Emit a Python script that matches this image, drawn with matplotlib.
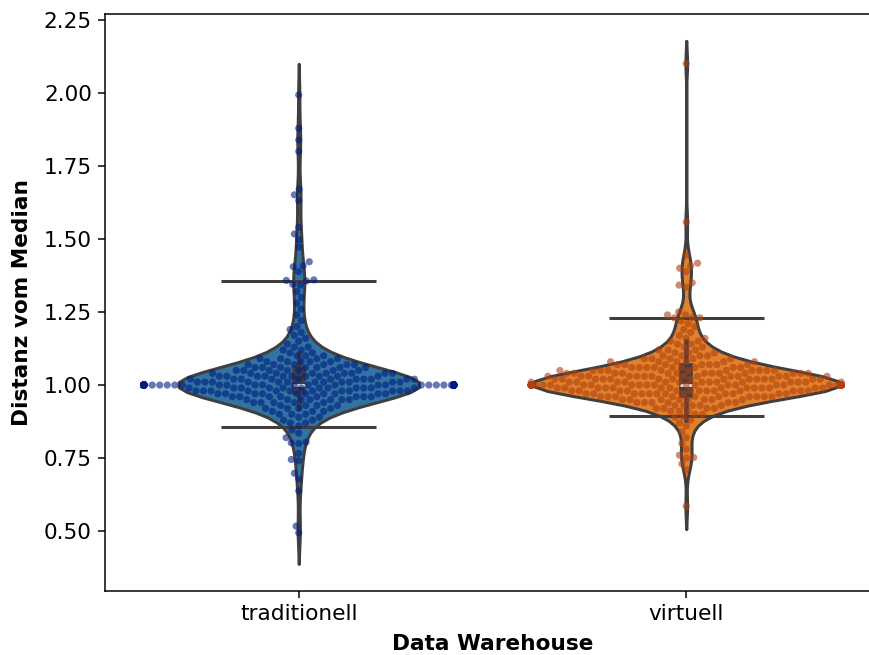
import numpy as np
import pandas as pd
import matplotlib
matplotlib.use("Agg")
import matplotlib.pyplot as plt
import seaborn as sns
import warnings
warnings.filterwarnings("ignore")

categories = ["traditionell", "virtuell"]

# value levels (Distanz vom Median) and how many runs sit at each level
trad_levels = [0.86, 0.87, 0.88, 0.89, 0.90, 0.91, 0.92, 0.93, 0.94, 0.95, 0.96, 0.97, 0.98, 0.99,
               1.00,
               1.01, 1.02, 1.03, 1.04, 1.05, 1.06, 1.07, 1.08, 1.09, 1.10,
               1.11, 1.12, 1.13, 1.14, 1.15, 1.16, 1.17, 1.18, 1.19, 1.20,
               1.22, 1.24, 1.26, 1.28, 1.30, 1.32]
trad_counts = [1, 2, 2, 2, 3, 3, 4, 4, 5, 7, 8, 10, 12, 12,
               110,
               12, 11, 10, 9, 7, 7, 6, 5, 4, 3,
               2, 2, 2, 1, 1, 1, 1, 1, 1, 1,
               1, 1, 1, 1, 1, 1]
trad_single = [0.494, 0.517, 0.638, 0.678, 0.698, 0.741, 0.745, 0.766, 0.800, 0.802, 0.805,
               0.820, 0.835, 0.846, 1.342, 1.345, 1.356, 1.358, 1.360, 1.388, 1.405, 1.408,
               1.422, 1.472, 1.497, 1.517, 1.540, 1.631, 1.651, 1.670, 1.800, 1.839, 1.879, 1.993]

virt_levels = [0.86, 0.87, 0.88, 0.89, 0.90, 0.91, 0.92, 0.93, 0.94, 0.95, 0.96, 0.97, 0.98, 0.99,
               1.00,
               1.01, 1.02, 1.03, 1.04, 1.05, 1.06, 1.07, 1.08, 1.09, 1.10,
               1.11, 1.12, 1.13, 1.14, 1.15, 1.16, 1.17, 1.18, 1.19, 1.20,
               1.21, 1.22, 1.23, 1.24, 1.25]
virt_counts = [1, 1, 1, 2, 2, 3, 4, 5, 6, 8, 10, 12, 13, 14,
               75,
               15, 15, 14, 13, 11, 9, 7, 6, 5, 4,
               3, 3, 2, 2, 2, 2, 1, 1, 1, 1,
               1, 1, 3, 2, 1]
virt_single = [0.585, 0.710, 0.730, 0.750, 0.752, 0.760, 0.780, 0.800, 0.820, 0.840,
               1.335, 1.342, 1.350, 1.388, 1.400, 1.408, 1.417, 1.445, 1.558, 2.100]

# horizontal reference lines per category (upper, lower)
trad_bounds = [1.355, 0.855]
virt_bounds = [1.228, 0.893]

yticks = [0.50, 0.75, 1.00, 1.25, 1.50, 1.75, 2.00, 2.25]

trad = np.concatenate([np.repeat(trad_levels, trad_counts), trad_single])
virt = np.concatenate([np.repeat(virt_levels, virt_counts), virt_single])
df = pd.DataFrame({
    "Data Warehouse": [categories[0]] * len(trad) + [categories[1]] * len(virt),
    "Distanz vom Median": np.concatenate([trad, virt]),
})

plt.rcParams["font.size"] = 11.5

DPI = 135.78
fig = plt.figure(figsize=(869 / DPI, 655 / DPI), dpi=DPI)
ax = fig.add_axes([105 / 869, (655 - 591) / 655, (880 - 105) / 869, (591 - 14) / 655])

violin_widths = [0.62, 0.79]
for cat, w in zip(categories, violin_widths):
    sub = df[df["Data Warehouse"] == cat]
    sns.violinplot(data=sub, x="Data Warehouse", y="Distanz vom Median", hue="Data Warehouse",
                   palette=["#1f77b4", "#ff7f0e"], inner="box", density_norm="width",
                   width=w, linewidth=1.6, legend=False, ax=ax,
                   order=categories, hue_order=categories)

for i, b in enumerate([trad_bounds, virt_bounds]):
    ax.hlines(b, i - 0.2, i + 0.2, colors="#3f3f3f", linewidth=1.6, zorder=2)

sns.swarmplot(data=df, x="Data Warehouse", y="Distanz vom Median", hue="Data Warehouse",
              palette=["#001c7f", "#b1400d"], size=3.8, alpha=0.6, legend=False, ax=ax,
              order=categories, hue_order=categories, zorder=3)

ax.set_xlim(-0.5, 1.5)
ax.set_ylim(0.295, 2.27)
ax.set_yticks(yticks)
ax.set_yticklabels([f"{t:.2f}" for t in yticks])
ax.set_xlabel("Data Warehouse", fontweight="bold", labelpad=5)
ax.set_ylabel("Distanz vom Median", fontweight="bold", labelpad=6)

fig.savefig("out.png", dpi=DPI)
